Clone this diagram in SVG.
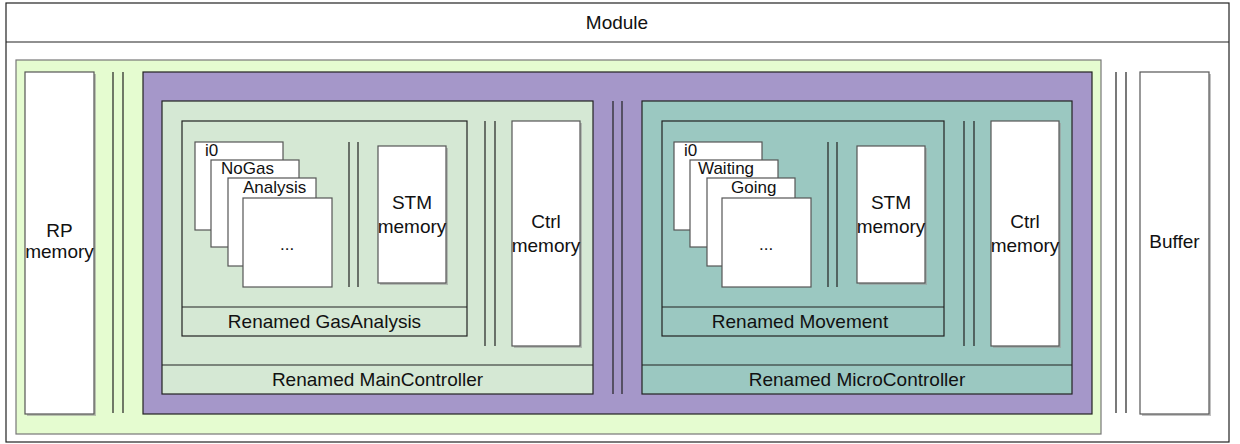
<svg xmlns="http://www.w3.org/2000/svg" width="1240" height="444" viewBox="0 0 1240 444">
<defs>
<style>
text{font-family:"Liberation Sans",Arial,sans-serif;font-size:19px;fill:#111;text-anchor:middle}
.s{font-size:17px;text-anchor:start}
.box{stroke:#222;stroke-width:1.2}
.w{fill:#fff;stroke:#555;stroke-width:1.2}
.sh{fill:#999;opacity:0.6}
.ln{stroke:#222;stroke-width:1.2;fill:none}
</style>
</defs>
<g id="module">
<rect x="6" y="3" width="1223" height="439" fill="#fff" class="box"/>
<line x1="6" y1="42" x2="1229" y2="42" class="ln"/>
<text x="617" y="29">Module</text>
</g>
<g id="rp">
<rect x="16" y="60" width="1085" height="374" fill="#e5fcd0" stroke="#777" stroke-width="1.2"/>
</g>
<g id="rpmemory">
<rect x="27" y="74" width="69" height="342" class="sh"/>
<rect x="25" y="72" width="69" height="342" class="w"/>
<text x="59.5" y="237">RP</text>
<text x="59.5" y="258">memory</text>
</g>
<g id="controllers">
<rect x="143" y="72" width="949" height="342" fill="#a597c9" class="box"/>
</g>
<g id="mainController">
<rect x="162" y="101" width="431" height="293" fill="#d5e8d4" class="box"/>
<line x1="162" y1="365" x2="593" y2="365" class="ln"/>
<text x="377.5" y="386">Renamed MainController</text>
</g>
<g id="gasAnalysis">
<rect x="182" y="121" width="285" height="215" fill="#d5e8d4" class="box"/>
<line x1="182" y1="307" x2="467" y2="307" class="ln"/>
<text x="324.5" y="328">Renamed GasAnalysis</text>
</g>
<g id="gasStates">
<rect x="195" y="142" width="88" height="88" class="w"/>
<text class="s" x="205" y="156">i0</text>
<rect x="211" y="160" width="88" height="87" class="w"/>
<text class="s" x="221" y="174">NoGas</text>
<rect x="228" y="178" width="88" height="88" class="w"/>
<text class="s" x="243" y="193">Analysis</text>
<rect x="243" y="198" width="89" height="89" class="w"/>
<text class="s" x="280" y="250">...</text>
</g>
<g id="gasSTM">
<rect x="380" y="148" width="68" height="137" class="sh"/>
<rect x="378" y="146" width="68" height="137" class="w"/>
<text x="412" y="209">STM</text>
<text x="412" y="233">memory</text>
</g>
<g id="mainCtrl">
<rect x="514" y="123" width="68" height="225" class="sh"/>
<rect x="512" y="121" width="68" height="225" class="w"/>
<text x="546" y="228">Ctrl</text>
<text x="546" y="252">memory</text>
</g>
<g id="microController">
<rect x="642" y="101" width="430" height="293" fill="#9bc8c1" class="box"/>
<line x1="642" y1="365" x2="1072" y2="365" class="ln"/>
<text x="857" y="386">Renamed MicroController</text>
</g>
<g id="movement">
<rect x="662" y="121" width="282" height="215" fill="#9bc8c1" class="box"/>
<line x1="662" y1="307" x2="944" y2="307" class="ln"/>
<text x="800" y="328">Renamed Movement</text>
</g>
<g id="movementStates">
<rect x="674" y="142" width="88" height="88" class="w"/>
<text class="s" x="684" y="156">i0</text>
<rect x="690" y="160" width="88" height="87" class="w"/>
<text class="s" x="698" y="174">Waiting</text>
<rect x="707" y="178" width="88" height="88" class="w"/>
<text class="s" x="731" y="193">Going</text>
<rect x="722" y="198" width="89" height="89" class="w"/>
<text class="s" x="759" y="250">...</text>
</g>
<g id="moveSTM">
<rect x="859" y="148" width="68" height="137" class="sh"/>
<rect x="857" y="146" width="68" height="137" class="w"/>
<text x="891" y="209">STM</text>
<text x="891" y="233">memory</text>
</g>
<g id="microCtrl">
<rect x="993" y="123" width="68" height="225" class="sh"/>
<rect x="991" y="121" width="68" height="225" class="w"/>
<text x="1025" y="228">Ctrl</text>
<text x="1025" y="252">memory</text>
</g>
<g id="buffer">
<rect x="1142" y="74" width="69" height="342" class="sh"/>
<rect x="1140" y="72" width="69" height="342" class="w"/>
<text x="1174.5" y="248">Buffer</text>
</g>
<g id="connectors">
<path class="ln" d="M113 72V413M123 72V413"/>
<path class="ln" d="M613 101V394M622 101V394"/>
<path class="ln" d="M349 142V287M358 142V287"/>
<path class="ln" d="M485 121V346M495 121V346"/>
<path class="ln" d="M828 142V287M837 142V287"/>
<path class="ln" d="M964 121V346M974 121V346"/>
<path class="ln" stroke="#555" d="M1116 72V413M1126 72V413"/>
</g>
</svg>
